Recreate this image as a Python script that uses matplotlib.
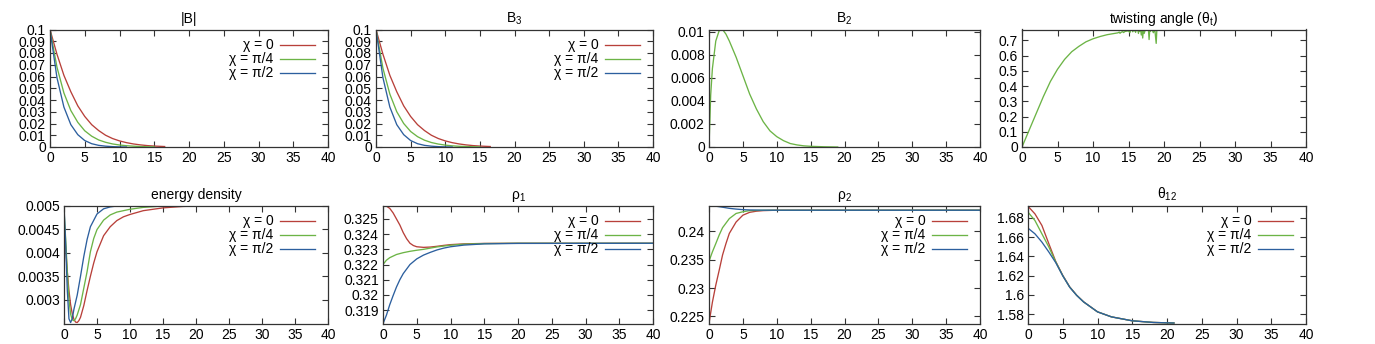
import numpy as np
import matplotlib
matplotlib.use("Agg")
import matplotlib.pyplot as plt
from matplotlib.ticker import FuncFormatter, MultipleLocator

plt.rcParams['font.family'] = ['Liberation Sans', 'DejaVu Sans']
plt.rcParams['mathtext.default'] = 'regular'

# ---------------- data ----------------
labels = ["χ = 0", "χ = π/4", "χ = π/2"]
colors = ["#b8403a", "#6cb446", "#2c5f9e"]

# |B|
absB_x_r = [0, 1, 2, 3, 4, 5, 6, 7, 8, 9, 10, 11, 12, 13, 14, 15, 16.5]
absB_y_r = [0.1, 0.079, 0.061, 0.047, 0.035, 0.026, 0.019, 0.014, 0.010, 0.0072, 0.0052, 0.0037, 0.0026, 0.0018, 0.0012, 0.0008, 0.0004]
absB_x_g = [0, 1, 2, 3, 4, 5, 6, 7, 8, 9, 10, 11, 12, 13, 14, 15]
absB_y_g = [0.1, 0.068, 0.046, 0.031, 0.021, 0.0138, 0.0092, 0.006, 0.004, 0.0026, 0.0017, 0.0011, 0.0007, 0.0004, 0.0002, 0.0001]
absB_x_b = [0, 1, 2, 3, 4, 5, 6, 7, 8, 9, 10, 11]
absB_y_b = [0.1, 0.059, 0.034, 0.019, 0.0105, 0.0055, 0.0028, 0.0014, 0.0007, 0.0003, 0.0001, 0.0]

# B3
B3_x_r = [0, 1, 2, 3, 4, 5, 6, 7, 8, 9, 10, 11, 12, 13, 14, 15, 16.5]
B3_y_r = [0.1, 0.079, 0.061, 0.047, 0.035, 0.026, 0.019, 0.014, 0.010, 0.0072, 0.0052, 0.0037, 0.0026, 0.0018, 0.0012, 0.0008, 0.0004]
B3_x_g = [0, 1, 2, 3, 4, 5, 6, 7, 8, 9, 10, 11, 12, 13, 14, 15]
B3_y_g = [0.1, 0.067, 0.045, 0.030, 0.020, 0.0132, 0.0088, 0.0058, 0.0038, 0.0025, 0.0016, 0.0010, 0.0006, 0.0004, 0.0002, 0.0001]
B3_x_b = [0, 1, 2, 3, 4, 5, 6, 7, 8, 9, 10, 11]
B3_y_b = [0.1, 0.059, 0.034, 0.019, 0.0105, 0.0055, 0.0028, 0.0014, 0.0007, 0.0003, 0.0001, 0.0]

# B2 (only chi = pi/4)
B2_x = [0, 0.25, 0.5, 1, 1.5, 2, 2.5, 3, 4, 5, 6, 7, 8, 9, 10, 11, 12, 13, 14, 15, 17, 19]
B2_y = [0, 0.0045, 0.0068, 0.0092, 0.0101, 0.0102, 0.0098, 0.0092, 0.0078, 0.0062, 0.0046, 0.0033,
        0.0022, 0.0014, 0.0009, 0.00055, 0.0003, 0.00018, 0.0001, 0.00006, 0.00002, 0.0]

# twisting angle (only chi = pi/4)
tw_x = [0, 1, 2, 3, 4, 5, 6, 7, 8, 9, 10, 11, 12, 13, 13.5, 13.7, 13.8, 14.0, 14.2, 14.3, 14.5,
        14.7, 15.0, 15.2, 15.3, 15.5, 15.6, 15.7, 15.8, 15.9, 16.0, 16.1, 16.2, 16.3, 16.4, 16.5,
        16.6, 16.7, 16.8, 16.9, 17.0, 17.1, 17.2, 17.4, 17.6, 17.8, 17.9, 18.0, 18.1, 18.3, 18.5,
        18.7, 18.9, 19.0]
tw_y = [0, 0.11, 0.22, 0.33, 0.43, 0.51, 0.575, 0.625, 0.66, 0.69, 0.71, 0.725, 0.737, 0.745, 0.749,
        0.754, 0.746, 0.754, 0.757, 0.751, 0.758, 0.760, 0.762, 0.750, 0.765, 0.770, 0.756, 0.771,
        0.762, 0.772, 0.752, 0.771, 0.765, 0.773, 0.745, 0.772, 0.760, 0.774, 0.735, 0.773, 0.715,
        0.774, 0.745, 0.773, 0.770, 0.774, 0.705, 0.773, 0.760, 0.774, 0.750, 0.774, 0.680, 0.774]

# energy density
ed_x_r = [0, 0.25, 0.5, 0.75, 1, 1.25, 1.5, 1.75, 2, 2.25, 2.5, 3, 3.5, 4, 4.5, 5, 6, 7, 8, 9, 10, 12, 15, 18, 20, 23]
ed_y_r = [0.0046, 0.0041, 0.0036, 0.0032, 0.0029, 0.00271, 0.00259, 0.00253, 0.00252, 0.00256, 0.00263,
          0.00288, 0.0032, 0.0035, 0.00378, 0.00402, 0.00436, 0.00455, 0.00468, 0.00476, 0.00481,
          0.00489, 0.00495, 0.00498, 0.00499, 0.005]
ed_x_g = [0, 0.25, 0.5, 0.75, 1, 1.25, 1.5, 1.75, 2, 2.5, 3, 3.5, 4, 4.5, 5, 6, 7, 8, 10, 12, 15, 18, 21]
ed_y_g = [0.0049, 0.0043, 0.0036, 0.0030, 0.0027, 0.00258, 0.00256, 0.0026, 0.00268, 0.0029, 0.00325,
          0.0036, 0.00402, 0.0043, 0.00449, 0.00469, 0.0048, 0.00486, 0.00492, 0.00496, 0.00499, 0.005, 0.005]
ed_x_b = [0, 0.25, 0.5, 0.75, 1.0, 1.25, 1.5, 2, 2.5, 3, 3.5, 4, 5, 6, 7, 8, 9, 10, 12, 15, 18]
ed_y_b = [0.005, 0.0042, 0.0032, 0.0026, 0.00252, 0.0026, 0.0028, 0.0031, 0.0035, 0.00392, 0.00428,
          0.00455, 0.00482, 0.00493, 0.00497, 0.00499, 0.005, 0.005, 0.005, 0.005, 0.005]

# rho_1
r1_x_r = [0, 0.5, 1, 1.5, 2, 2.5, 3, 3.5, 4, 4.5, 5, 6, 7, 8, 9, 10, 12, 15, 20, 40]
r1_y_r = [0.3259, 0.32585, 0.3257, 0.3254, 0.3250, 0.3246, 0.3241, 0.3237, 0.3234, 0.32325, 0.32317,
          0.32313, 0.32315, 0.3232, 0.32326, 0.32331, 0.32336, 0.32339, 0.3234, 0.3234]
r1_x_g = [0, 0.5, 1, 2, 3, 4, 5, 6, 7, 8, 10, 12, 15, 20, 40]
r1_y_g = [0.322, 0.32228, 0.32245, 0.32266, 0.32278, 0.32287, 0.32294, 0.323, 0.32308, 0.32316,
          0.32327, 0.32334, 0.32338, 0.3234, 0.3234]
r1_x_b = [0, 0.5, 1, 1.5, 2, 2.5, 3, 4, 5, 6, 7, 8, 9, 10, 12, 15, 20, 40]
r1_y_b = [0.3181, 0.31865, 0.31935, 0.31995, 0.32052, 0.321, 0.3214, 0.322, 0.32237, 0.32262, 0.3228,
          0.32296, 0.32308, 0.32317, 0.32328, 0.32336, 0.32339, 0.3234]

# rho_2
r2_x_r = [0, 0.5, 1, 1.5, 2, 2.5, 3, 4, 5, 6, 7, 8, 10, 40]
r2_y_r = [0.2238, 0.2275, 0.2305, 0.2331, 0.2358, 0.2378, 0.2396, 0.2416, 0.2428, 0.2433, 0.2435,
          0.2436, 0.24367, 0.24367]
r2_x_g = [0, 0.5, 1, 1.5, 2, 3, 4, 5, 6, 8, 40]
r2_y_g = [0.2347, 0.23635, 0.2378, 0.2393, 0.2406, 0.2422, 0.2431, 0.2434, 0.2436, 0.24366, 0.24367]
r2_x_b = [0, 1, 2, 3, 4, 5, 6, 8, 10, 40]
r2_y_b = [0.2445, 0.24438, 0.2442, 0.2440, 0.24387, 0.24377, 0.24372, 0.24368, 0.24367, 0.24367]

# theta_12
t12_x_r = [0, 1, 2, 3, 4, 5, 6, 7, 8, 10, 12, 15, 18, 21]
t12_y_r = [1.692, 1.6841, 1.6721, 1.6531, 1.6345, 1.6203, 1.6083, 1.5997, 1.5928, 1.5824, 1.5772, 1.5731, 1.5714, 1.5708]
t12_x_g = [0, 1, 2, 3, 4, 5, 6, 7, 8, 10, 12, 15, 18, 21]
t12_y_g = [1.6859, 1.6772, 1.6634, 1.6497, 1.6341, 1.6200, 1.6081, 1.5996, 1.5927, 1.5824, 1.5772, 1.5731, 1.5714, 1.5708]
t12_x_b = [0, 1, 2, 3, 4, 5, 6, 7, 8, 10, 12, 15, 18, 21]
t12_y_b = [1.6693, 1.6634, 1.6548, 1.6445, 1.6334, 1.6198, 1.6080, 1.5995, 1.5927, 1.5824, 1.5772, 1.5731, 1.5714, 1.5708]

# ---------------- figure ----------------
W, H = 1375, 344
fig = plt.figure(figsize=(W / 100, H / 100), dpi=100)

FS = 10


def px_axes(left, top, right, bottom):
    return fig.add_axes([left / W, 1 - bottom / H, (right - left) / W, (bottom - top) / H])


fmt = FuncFormatter(lambda v, p: f"{round(v, 8):.6g}")


def style(ax, title, ylim, ystep, yfirst=None):
    ax.set_xlim(0, 40)
    ax.set_ylim(*ylim)
    ax.xaxis.set_major_locator(MultipleLocator(5))
    if yfirst is None:
        ax.yaxis.set_major_locator(MultipleLocator(ystep))
    else:
        ticks = np.arange(yfirst, ylim[1] + 1e-12, ystep)
        ax.set_yticks(ticks)
    ax.yaxis.set_major_formatter(fmt)
    ax.tick_params(direction='in', length=4, width=0.8, top=True, right=True,
                   labelsize=FS, pad=3, color='#333333')
    for s in ax.spines.values():
        s.set_linewidth(0.9)
        s.set_color('#333333')
    ax.set_title(title, fontsize=FS, pad=5)


def leg(ax):
    ax.legend(loc='upper right', frameon=False, markerfirst=False, fontsize=FS,
              handlelength=2.5, handletextpad=0.5, labelspacing=0.0,
              borderaxespad=0.5, borderpad=0.44,
              bbox_to_anchor=(1.0, 1.035), bbox_transform=ax.transAxes)


lw = 0.95

# top row
ax = px_axes(50, 29.5, 328, 147)
ax.plot(absB_x_r, absB_y_r, color=colors[0], lw=lw, label=labels[0])
ax.plot(absB_x_g, absB_y_g, color=colors[1], lw=lw, label=labels[1])
ax.plot(absB_x_b, absB_y_b, color=colors[2], lw=lw, label=labels[2])
style(ax, "|B|", (0, 0.1), 0.01)
leg(ax)

ax = px_axes(376, 29.5, 653, 147)
ax.plot(B3_x_r, B3_y_r, color=colors[0], lw=lw, label=labels[0])
ax.plot(B3_x_g, B3_y_g, color=colors[1], lw=lw, label=labels[1])
ax.plot(B3_x_b, B3_y_b, color=colors[2], lw=lw, label=labels[2])
style(ax, "B$_3$", (0, 0.1), 0.01)
leg(ax)

ax = px_axes(709, 29.5, 980, 147)
ax.plot(B2_x, B2_y, color=colors[1], lw=lw)
style(ax, "B$_2$", (0, 0.0102), 0.002)

ax = px_axes(1022, 29.5, 1306, 147)
ax.plot(tw_x, tw_y, color=colors[1], lw=lw)
style(ax, "twisting angle (θ$_t$)", (0, 0.771), 0.1)

# bottom row
ax = px_axes(64, 205.5, 328, 323.5)
ax.plot(ed_x_r, ed_y_r, color=colors[0], lw=lw, label=labels[0])
ax.plot(ed_x_g, ed_y_g, color=colors[1], lw=lw, label=labels[1])
ax.plot(ed_x_b, ed_y_b, color=colors[2], lw=lw, label=labels[2])
style(ax, "energy density", (0.0025, 0.005), 0.0005, yfirst=0.003)
leg(ax)

ax = px_axes(383, 205.5, 653, 323.5)
ax.plot(r1_x_r, r1_y_r, color=colors[0], lw=lw, label=labels[0])
ax.plot(r1_x_g, r1_y_g, color=colors[1], lw=lw, label=labels[1])
ax.plot(r1_x_b, r1_y_b, color=colors[2], lw=lw, label=labels[2])
style(ax, "ρ$_1$", (0.31811, 0.32589), 0.001, yfirst=0.319)
leg(ax)

ax = px_axes(709, 205.5, 980, 323.5)
ax.plot(r2_x_r, r2_y_r, color=colors[0], lw=lw, label=labels[0])
ax.plot(r2_x_g, r2_y_g, color=colors[1], lw=lw, label=labels[1])
ax.plot(r2_x_b, r2_y_b, color=colors[2], lw=lw, label=labels[2])
style(ax, "ρ$_2$", (0.22377, 0.24450), 0.005, yfirst=0.225)
leg(ax)

ax = px_axes(1028, 205.5, 1306, 323.5)
ax.plot(t12_x_r, t12_y_r, color=colors[0], lw=lw, label=labels[0])
ax.plot(t12_x_g, t12_y_g, color=colors[1], lw=lw, label=labels[1])
ax.plot(t12_x_b, t12_y_b, color=colors[2], lw=lw, label=labels[2])
style(ax, "θ$_{12}$", (1.5703, 1.6928), 0.02, yfirst=1.58)
leg(ax)

fig.savefig("out.png", dpi=100)
